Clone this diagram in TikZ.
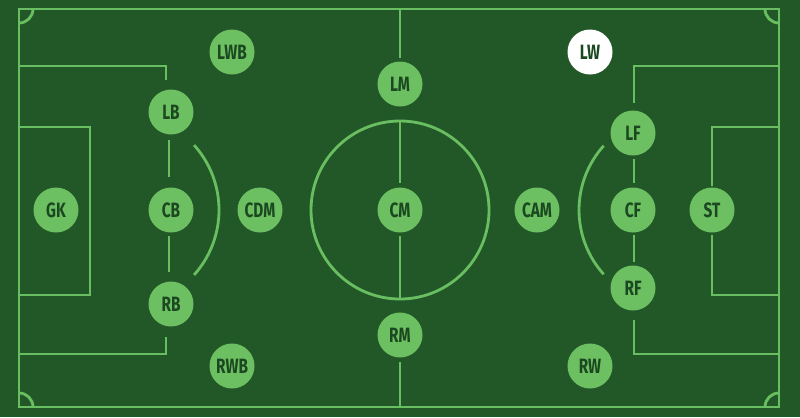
\documentclass[tikz,border=0pt]{standalone}
\usepackage{xcolor}
\usepackage{fontspec}
\usepackage{tikz}
\newfontfamily\posfont[FakeStretch=0.74]{Fira Sans}

\begin{document}
\begin{tikzpicture}[x=0.02cm,y=-0.02cm]
    \definecolor{pitchd}{RGB}{34,88,40}
    \definecolor{chalk}{RGB}{104,190,96}
    \definecolor{playerf}{RGB}{108,192,98}
    \definecolor{playert}{RGB}{27,72,32}

    \tikzstyle{line}=[draw=chalk,line width=1.6pt]  % pitch markings
    \tikzstyle{player}=[circle,fill=playerf,text=playert,minimum size=0.9cm,inner sep=0pt,font=\posfont\bfseries\fontsize{11.8}{13}\selectfont]  % player discs
    \tikzstyle{marked}=[player,fill=white]  % highlighted player

    % pitch
    \fill[pitchd] (0,0) rectangle (800,417);
    \useasboundingbox (0,0) rectangle (800,417);
    \draw[line] (19,9) rectangle (779,407);
    \draw[line] (33,9) arc[start angle=0,end angle=90,radius=14];
    \draw[line] (765,9) arc[start angle=180,end angle=90,radius=14];
    \draw[line] (33,407) arc[start angle=0,end angle=-90,radius=14];
    \draw[line] (765,407) arc[start angle=180,end angle=270,radius=14];

    % halfway line and centre circle
    \draw[line] (400,210) circle[radius=89];
    \draw[line] (400,9) -- (400,58);
    \draw[line] (400,121) -- (400,183);
    \draw[line] (400,236) -- (400,299);
    \draw[line] (400,362) -- (400,407);

    % left half
    \draw[line] (19,66) -- (166,66) -- (166,80);
    \draw[line] (169,140) -- (169,177);
    \draw[line] (169,236) -- (169,272);
    \draw[line] (166,337) -- (166,354) -- (19,354);
    \draw[line] (19,127) -- (90,127) -- (90,295) -- (19,295);
    \draw[line] (122,210) ++(-42:97) arc[start angle=-42,end angle=42,radius=97];

    % right half
    \draw[line] (779,66) -- (634,66) -- (634,103);
    \draw[line] (634,159) -- (634,183);
    \draw[line] (634,235) -- (634,262);
    \draw[line] (634,320) -- (634,354) -- (779,354);
    \draw[line] (779,127) -- (712,127) -- (712,186);
    \draw[line] (712,235) -- (712,295) -- (779,295);
    \draw[line] (675,210) ++(222:96) arc[start angle=222,end angle=138,radius=96];

    % players
    \node[player](gk) at (56,210){GK};
    \node[player](lb) at (171,112){LB};
    \node[player](cb) at (171,210){CB};
    \node[player](rb) at (171,304){RB};
    \node[player](lwb) at (232,52){LWB};
    \node[player](rwb) at (232,366){RWB};
    \node[player](cdm) at (260,210){CDM};
    \node[player](lm) at (400,84){LM};
    \node[player](cm) at (400,210){CM};
    \node[player](rm) at (400,335){RM};
    \node[player](cam) at (537,210){CAM};
    \node[marked](lw) at (590,52){LW};
    \node[player](rw) at (590,366){RW};
    \node[player](lf) at (633,133){LF};
    \node[player](cf) at (633,210){CF};
    \node[player](rf) at (633,288){RF};
    \node[player](st) at (712,210){ST};
\end{tikzpicture}
\end{document}
